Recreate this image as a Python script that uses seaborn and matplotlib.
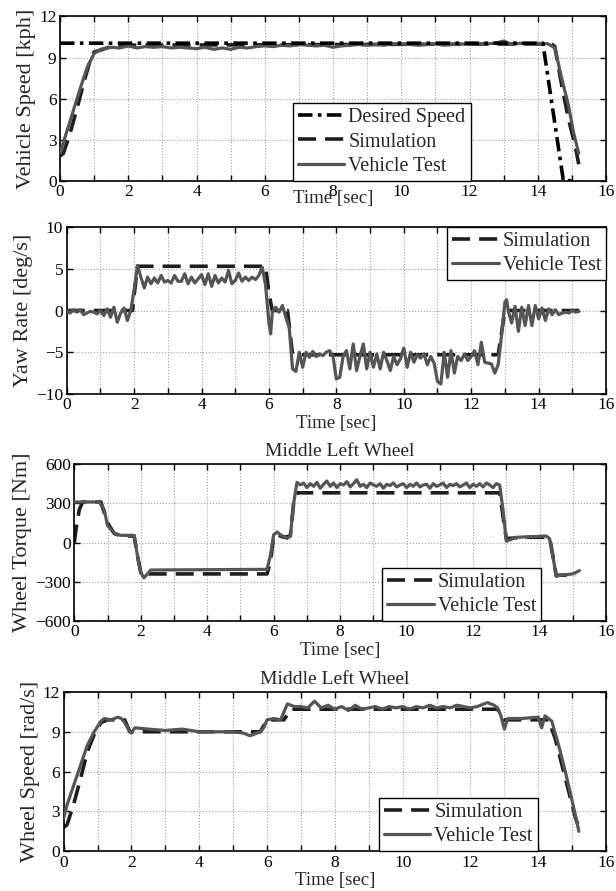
import seaborn as sns
import matplotlib.pyplot as plt
from matplotlib.ticker import MultipleLocator

# ---- panel 1: vehicle speed [kph]
des_t = [0, 14.15, 14.75, 15.0]
des_v = [10.05, 10.05, 0, 0]
sim1_t = [0, 0.1, 0.3, 0.5, 0.7, 0.9, 1.0, 1.5, 2.0, 14.4, 14.5, 14.7, 14.9, 15.1, 15.2]
sim1_v = [1.8, 2.0, 3.5, 5.3, 7.2, 8.9, 9.4, 9.8, 9.9, 10.0, 9.8, 7.0, 4.5, 2.5, 1.2]
veh1_t = [0, 0.2, 0.4, 0.6, 0.8, 1.0, 1.2, 1.5, 1.75, 2.0, 2.25, 2.5, 2.75, 3.0, 3.25, 3.5,
          3.75, 4.0, 4.25, 4.5, 4.75, 5.0, 5.25, 5.5, 5.75, 6.0, 6.25, 6.5, 6.75, 7.0, 7.25,
          7.5, 7.75, 8.0, 8.25, 8.5, 8.75, 9.0, 9.25, 9.5, 9.75, 10.0, 10.25, 10.5, 10.75,
          11.0, 11.25, 11.5, 11.75, 12.0, 12.25, 12.5, 12.75, 13.0, 13.25, 13.5, 13.75, 14.0,
          14.3, 14.5, 14.7, 14.9, 15.05, 15.2]
veh1_v = [2.0, 3.6, 5.2, 6.8, 8.3, 9.3, 9.6, 9.75, 9.7, 9.85, 9.7, 9.8, 9.75, 9.8, 9.7, 9.75,
          9.7, 9.65, 9.75, 9.6, 9.7, 9.6, 9.75, 9.7, 9.8, 9.85, 9.8, 9.9, 9.85, 9.95, 9.9,
          9.85, 9.9, 9.75, 9.85, 9.9, 9.95, 9.9, 9.95, 9.9, 10.0, 10.0, 9.95, 9.9, 9.95,
          10.0, 9.9, 9.95, 10.0, 9.95, 10.0, 10.0, 10.05, 10.2, 9.95, 10.05, 9.95, 10.05,
          10.0, 9.7, 7.5, 5.5, 3.5, 2.0]

# ---- panel 2: yaw rate [deg/s]
sim2_t = [0, 1.95, 2.1, 5.9, 6.0, 6.1, 6.55, 6.7, 12.8, 13.0, 15.2]
sim2_v = [0, 0, 5.3, 5.3, 2.0, 0, 0, -5.3, -5.3, 0, 0]
veh2_t = [0.0, 0.1, 0.2, 0.3, 0.4, 0.5, 0.6, 0.7, 0.8, 0.9, 1.0, 1.1, 1.2, 1.3, 1.4, 1.5,
          1.6, 1.7, 1.8, 1.9, 2.0, 2.1, 2.2, 2.3, 2.4, 2.5, 2.6, 2.7, 2.8, 2.9, 3.0, 3.1,
          3.2, 3.3, 3.4, 3.5, 3.6, 3.7, 3.8, 3.9, 4.0, 4.1, 4.2, 4.3, 4.4, 4.5, 4.6, 4.7,
          4.8, 4.9, 5.0, 5.1, 5.2, 5.3, 5.4, 5.5, 5.6, 5.7, 5.8, 5.9, 6.0, 6.05, 6.1, 6.2,
          6.3, 6.4, 6.5, 6.6, 6.7, 6.8, 6.9, 7.0, 7.1, 7.2, 7.3, 7.4, 7.5, 7.6, 7.7, 7.8,
          7.9, 8.0, 8.1, 8.2, 8.3, 8.4, 8.5, 8.6, 8.7, 8.8, 8.9, 9.0, 9.1, 9.2, 9.3, 9.4,
          9.5, 9.6, 9.7, 9.8, 9.9, 10.0, 10.1, 10.2, 10.3, 10.4, 10.5, 10.6, 10.7, 10.8,
          10.9, 11.0, 11.1, 11.2, 11.3, 11.4, 11.5, 11.6, 11.7, 11.8, 11.9, 12.0, 12.1,
          12.2, 12.3, 12.4, 12.5, 12.6, 12.7, 12.8, 12.9, 13.0, 13.05, 13.1, 13.2, 13.3,
          13.4, 13.5, 13.6, 13.7, 13.8, 13.9, 14.0, 14.1, 14.2, 14.3, 14.4, 14.5, 14.6,
          14.7, 14.8, 14.9, 15.0, 15.1, 15.2]
veh2_v = [0.0, -0.3, 0.1, -0.2, 0.1, -0.5, -0.3, -0.1, -0.2, -0.4, 0.0, -0.6, 0.2, -0.8,
          0.4, -1.4, -0.3, 0.3, -1.2, 0.0, 2.5, 5.4, 4.0, 2.7, 4.0, 3.2, 3.9, 3.3, 4.2, 3.4,
          3.6, 3.3, 4.2, 3.5, 3.5, 4.4, 3.2, 4.0, 3.3, 3.8, 4.3, 3.1, 4.4, 2.9, 4.2, 3.3,
          3.9, 3.4, 4.8, 3.2, 3.6, 4.5, 3.5, 4.0, 3.6, 4.0, 3.7, 4.2, 5.2, 3.0, -1.5, -2.8,
          -0.2, 0.4, -0.2, 0.6, -0.8, -2.0, -7.0, -7.3, -5.0, -6.8, -5.0, -5.6, -4.9, -5.5,
          -5.2, -5.4, -5.0, -4.8, -5.5, -8.2, -8.0, -5.5, -4.8, -7.0, -4.0, -7.2, -5.5,
          -4.0, -7.0, -5.0, -6.8, -5.2, -7.0, -5.0, -6.0, -7.2, -5.5, -6.5, -5.8, -4.5,
          -6.8, -5.0, -6.2, -5.3, -5.7, -5.2, -6.5, -5.5, -6.3, -8.5, -8.8, -5.0, -8.0,
          -4.8, -7.5, -5.5, -6.0, -5.2, -6.0, -5.5, -4.8, -6.5, -3.8, -6.2, -6.3, -6.4,
          -7.5, -6.5, -3.0, 1.0, 1.3, 0.0, -1.5, 0.5, -2.5, 0.4, -1.8, 0.6, -1.8, 0.6,
          -1.0, 0.3, -1.2, 0.2, -0.5, 0.1, -0.5, -0.3, -0.2, -0.3, 0.0, -0.2, -0.1]

# ---- panel 3: wheel torque [Nm]
sim3_t = [0, 0.05, 0.15, 0.25, 0.8, 1.0, 1.2, 1.4, 1.8, 1.9, 2.0, 2.1, 2.2, 5.8, 5.9, 6.0,
          6.1, 6.3, 6.5, 6.6, 6.7, 12.8, 12.9, 13.0, 13.5, 14.3, 14.4, 14.5, 15.1]
sim3_v = [0, 100, 250, 310, 310, 150, 70, 50, 50, -100, -230, -260, -240, -240, -150, 50,
          60, 40, 50, 300, 380, 380, 200, 30, 40, 40, -100, -250, -250]
veh3_t = [0, 0.75, 0.9, 1.0, 1.2, 1.4, 1.8, 1.9, 2.0, 2.1, 2.2, 2.3, 5.8, 5.9, 6.0, 6.1,
          6.2, 6.4, 6.5, 6.6, 6.7, 6.8, 6.9, 7.0, 7.1, 7.2, 7.3, 7.4, 7.5, 7.6, 7.7, 7.8,
          7.9, 8.0, 8.1, 8.2, 8.3, 8.4, 8.5, 8.6, 8.7, 8.8, 8.9, 9.0, 9.1, 9.2, 9.3, 9.4,
          9.5, 9.6, 9.7, 9.8, 9.9, 10.0, 10.1, 10.2, 10.3, 10.4, 10.5, 10.6, 10.7, 10.8,
          10.9, 11.0, 11.1, 11.2, 11.3, 11.4, 11.5, 11.6, 11.7, 11.8, 11.9, 12.0, 12.1,
          12.2, 12.3, 12.4, 12.5, 12.6, 12.7, 12.8, 12.9, 13.0, 13.1, 13.3, 14.2, 14.3,
          14.4, 14.5, 14.6, 15.0, 15.2]
veh3_v = [310, 310, 250, 130, 70, 55, 55, -100, -230, -270, -240, -210, -205, -100, 60,
          80, 60, 30, 50, 300, 460, 440, 455, 420, 450, 430, 460, 415, 445, 470, 430, 455,
          420, 450, 440, 465, 425, 450, 480, 430, 445, 420, 455, 440, 430, 450, 415, 445,
          435, 455, 425, 440, 450, 420, 445, 430, 455, 425, 440, 445, 415, 450, 430, 440,
          455, 420, 445, 435, 450, 425, 440, 455, 420, 445, 430, 450, 425, 455, 440, 420,
          450, 440, 250, 10, 20, 40, 50, 30, -100, -260, -250, -240, -215]

# ---- panel 4: wheel speed [rad/s]
sim4_t = [0, 0.1, 0.3, 0.5, 0.7, 0.9, 1.1, 1.3, 1.8, 1.95, 2.1, 5.8, 6.0, 6.5, 6.7, 12.8,
          13.0, 14.3, 14.5, 14.7, 14.9, 15.1, 15.2]
sim4_v = [1.8, 2.0, 3.6, 5.5, 7.5, 8.8, 9.7, 9.9, 9.9, 9.0, 9.0, 9.0, 9.9, 9.9, 10.7,
          10.7, 9.9, 9.9, 8.5, 6.5, 4.5, 2.5, 1.8]
veh4_t = [0, 0.1, 0.3, 0.5, 0.7, 0.9, 1.1, 1.2, 1.4, 1.6, 1.7, 1.8, 1.95, 2.0, 2.1, 2.5,
          3.0, 3.5, 4.0, 4.5, 5.0, 5.3, 5.5, 5.8, 5.9, 6.0, 6.2, 6.4, 6.5, 6.6, 6.8, 7.0,
          7.2, 7.4, 7.6, 7.8, 8.0, 8.2, 8.4, 8.6, 8.8, 9.0, 9.2, 9.4, 9.6, 9.8, 10.0, 10.2,
          10.4, 10.6, 10.8, 11.0, 11.2, 11.4, 11.6, 11.8, 12.0, 12.2, 12.5, 12.7, 12.8,
          12.9, 13.0, 13.1, 13.5, 14.0, 14.1, 14.2, 14.4, 14.6, 14.8, 15.0, 15.2]
veh4_v = [2.5, 3.5, 5.0, 6.5, 8.0, 9.0, 9.8, 10.0, 9.9, 10.1, 10.0, 9.7, 9.0, 8.9, 9.3,
          9.2, 9.1, 9.2, 9.0, 9.0, 9.0, 8.9, 8.7, 9.0, 9.3, 9.9, 10.0, 9.9, 10.5, 11.1,
          10.9, 10.9, 10.8, 11.3, 10.8, 11.0, 10.7, 10.9, 10.6, 11.0, 10.7, 10.8, 10.9,
          10.7, 10.9, 10.8, 10.9, 10.7, 10.9, 10.8, 11.0, 10.8, 10.9, 10.8, 11.0, 10.9,
          10.8, 10.9, 11.2, 11.0, 10.8, 10.2, 9.2, 10.0, 10.0, 10.1, 9.3, 10.2, 9.8, 8.0,
          6.0, 3.8, 1.5]

time_label = "Time [sec]"
panel_title = "Middle Left Wheel"

sns.set_style("ticks")
plt.rcParams['font.family'] = ['Liberation Serif', 'DejaVu Serif']

C_DES = "#000000"
C_SIM = "#1e1e1e"
C_VEH = "#555555"
DASH = (0, (5, 2.5))
DASHDOT = (0, (4, 1.5, 1, 1.5))

fig = plt.figure(figsize=(6.16, 8.91), dpi=100)
rects = [
    [0.0974, 0.7972, 0.8864, 0.1843],
    [0.1083, 0.5578, 0.8755, 0.1874],
    [0.1206, 0.3030, 0.8632, 0.1762],
    [0.1034, 0.0446, 0.8804, 0.1788],
]
axes = [fig.add_axes(r) for r in rects]


def style_axis(ax, ylim, ystep, ylabel, xlabelpad=1):
    ax.set_xlim(0, 16)
    ax.set_ylim(*ylim)
    ax.xaxis.set_major_locator(MultipleLocator(2))
    ax.xaxis.set_minor_locator(MultipleLocator(1))
    ax.yaxis.set_major_locator(MultipleLocator(ystep))
    ax.tick_params(which='both', direction='in', top=True, right=True,
                   length=4, width=1, labelsize=12.5, pad=2.5, colors='black')
    ax.tick_params(axis='y', which='minor', left=False, right=False)
    ax.grid(True, which='major', linestyle=':', color='#a0a0a0', linewidth=0.8)
    ax.grid(True, which='minor', axis='x', linestyle=':', color='#a0a0a0', linewidth=0.8)
    for s in ax.spines.values():
        s.set_linewidth(1.2)
        s.set_color('black')
    ax.set_ylabel(ylabel, fontsize=16, labelpad=2)
    ax.set_xlabel(time_label, fontsize=13.5, labelpad=xlabelpad)


def legend(ax, loc, anchor):
    leg = ax.legend(loc=loc, bbox_to_anchor=anchor, fontsize=14.5, frameon=True,
                    fancybox=False, framealpha=1, edgecolor='black', borderaxespad=0,
                    handlelength=2.3, handletextpad=0.2, borderpad=0.25, labelspacing=0.25)
    leg.get_frame().set_linewidth(1.0)


def draw(ax, t, v, color, ls, lw, label, z):
    sns.lineplot(x=t, y=v, ax=ax, color=color, linestyle=ls, linewidth=lw,
                 label=label, sort=False, estimator=None, zorder=z)


# panel 1
ax = axes[0]
draw(ax, des_t, des_v, C_DES, DASHDOT, 2.6, "Desired Speed", 4)
draw(ax, sim1_t, sim1_v, C_SIM, DASH, 2.6, "Simulation", 2)
draw(ax, veh1_t, veh1_v, C_VEH, '-', 2.3, "Vehicle Test", 3)
style_axis(ax, (0, 12), 3, "Vehicle Speed [kph]", xlabelpad=-7)
legend(ax, 'lower right', (0.752, 0.0))

# panel 2
ax = axes[1]
draw(ax, sim2_t, sim2_v, C_SIM, DASH, 2.6, "Simulation", 2)
draw(ax, veh2_t, veh2_v, C_VEH, '-', 2.3, "Vehicle Test", 3)
style_axis(ax, (-10, 10), 5, "Yaw Rate [deg/s]")
legend(ax, 'upper right', (1.0, 1.0))

# panel 3
ax = axes[2]
draw(ax, sim3_t, sim3_v, C_SIM, DASH, 2.6, "Simulation", 2)
draw(ax, veh3_t, veh3_v, C_VEH, '-', 2.3, "Vehicle Test", 3)
style_axis(ax, (-600, 600), 300, "Wheel Torque [Nm]")
ax.set_title(panel_title, fontsize=14, pad=6)
legend(ax, 'lower right', (0.878, 0.0))

# panel 4
ax = axes[3]
draw(ax, sim4_t, sim4_v, C_SIM, DASH, 2.6, "Simulation", 2)
draw(ax, veh4_t, veh4_v, C_VEH, '-', 2.3, "Vehicle Test", 3)
style_axis(ax, (0, 12), 3, "Wheel Speed [rad/s]")
ax.set_title(panel_title, fontsize=14, pad=6)
legend(ax, 'lower right', (0.874, 0.0))

fig.savefig("out.png", dpi=100)
